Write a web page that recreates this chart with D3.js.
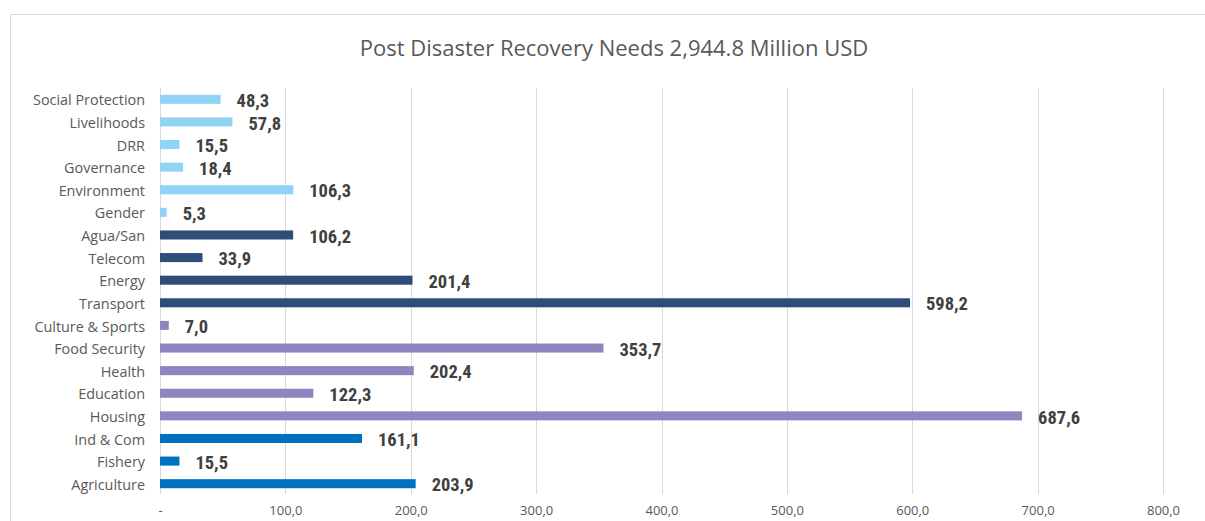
<!DOCTYPE html>
<html><head><meta charset="utf-8">
<script src="https://cdn.jsdelivr.net/npm/d3@7"></script>
<style>
body{margin:0;background:#fff;}
svg{display:block;}
</style></head>
<body>
<svg id="c" width="1205" height="521"></svg>
<script>
const categories = ["Social Protection","Livelihoods","DRR","Governance","Environment","Gender","Agua/San","Telecom","Energy","Transport","Culture & Sports","Food Security","Health","Education","Housing","Ind & Com","Fishery","Agriculture"];
const values = [48.3,57.8,15.5,18.4,106.3,5.3,106.2,33.9,201.4,598.2,7.0,353.7,202.4,122.3,687.6,161.1,15.5,203.9];
const groups = ["cross","cross","cross","cross","cross","cross","infra","infra","infra","infra","social","social","social","social","social","prod","prod","prod"];
const groupNames = ["cross","infra","social","prod"];
const groupColors = ["#8fd3f5","#2e4d7b","#8f86c0","#0070c0"];
const xTicks = [0,100,200,300,400,500,600,700,800];
const title = "Post Disaster Recovery Needs 2,944.8 Million USD";

const svg = d3.select("#c");
// frame
svg.append("path").attr("d","M10.5,521 V14.5 H1205").attr("fill","none").attr("stroke","#d9d9d9").attr("stroke-width",1);

const x = d3.scaleLinear().domain([0,800]).range([160,1163]);
const y = d3.scaleBand().domain(categories).range([88,495]).paddingInner(0.6).paddingOuter(0.3);
const color = d3.scaleOrdinal().domain(groupNames).range(groupColors);
const fmt = v => v===0 ? "-" : d3.format(".1f")(v).replace(".",",");

// gridlines
svg.append("g").selectAll("line").data(xTicks).join("line")
  .attr("x1",d=>Math.round(x(d))+0.5).attr("x2",d=>Math.round(x(d))+0.5)
  .attr("y1",88).attr("y2",494)
  .attr("stroke","#d9d9d9").attr("stroke-width",1);

// x axis labels
const xa = svg.append("g").attr("transform","translate(0,494)")
  .call(d3.axisBottom(x).tickValues(xTicks).tickFormat(fmt).tickSize(0).tickPadding(12));
xa.select(".domain").remove();
xa.selectAll("text").attr("fill","#595959").style("font-family","'Open Sans', 'Noto Sans', sans-serif").style("font-size","13px");

// y axis labels
const ya = svg.append("g").attr("transform","translate(145,1.5)")
  .call(d3.axisLeft(y).tickSize(0).tickPadding(0));
ya.select(".domain").remove();
ya.selectAll("text").attr("fill","#595959").style("font-family","'Open Sans', 'Noto Sans', sans-serif").style("font-size","14.4px");

const data = categories.map((c,i)=>({c, v:values[i], g:groups[i]}));
// bars
svg.append("g").selectAll("rect").data(data).join("rect")
  .attr("x",x(0)).attr("y",d=>y(d.c)).attr("width",d=>x(d.v)-x(0)).attr("height",y.bandwidth())
  .attr("fill",d=>color(d.g));

// value labels
svg.append("g").selectAll("text").data(data).join("text")
  .attr("x",d=>x(d.v)+16).attr("y",d=>y(d.c)+y.bandwidth()/2+1).attr("dy","0.36em")
  .attr("fill","#404040")
  .style("font-family","'Liberation Sans Narrow','Arial Narrow','Roboto Condensed',sans-serif")
  .style("font-weight","bold").style("font-size","18.5px")
  .text(d=>fmt(d.v));

// title
svg.append("text").attr("x",614).attr("y",56).attr("text-anchor","middle")
  .attr("fill","#595959").style("font-family","'Open Sans','Noto Sans',sans-serif").style("font-size","22px")
  .text(title);
</script>
</body></html>
